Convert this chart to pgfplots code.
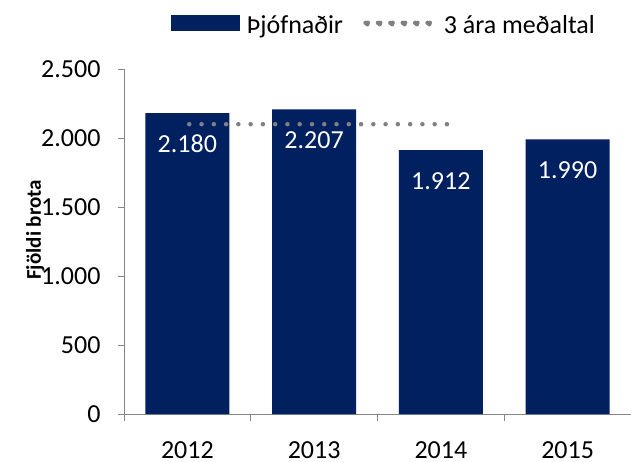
\documentclass[border=0pt]{standalone}
\usepackage{fontspec}
\setmainfont{Carlito}
\usepackage{pgfplots}
\pgfplotsset{compat=1.18}
\definecolor{barblue}{HTML}{002060}
\definecolor{dotgray}{HTML}{808080}
\definecolor{axgray}{HTML}{868686}
\begin{document}
\begin{tikzpicture}
\useasboundingbox (0,0) rectangle (631pt,461pt);
\begin{axis}[
  at={(124pt,47pt)}, anchor=south west,
  scale only axis, width=507pt, height=345pt,
  xmin=-0.5, xmax=3.5, ymin=0, ymax=2500,
  axis x line*=bottom, axis y line*=left,
  axis line style={axgray, line width=1pt},
  ytick={0,500,1000,1500,2000,2500},
  xtick={0,1,2,3}, xticklabels={2012,2013,2014,2015},
  minor xtick={-0.5,0.5,1.5,2.5,3.5},
  tick align=outside,
  major tick length=6pt, minor tick length=7pt,
  tick style={axgray, line width=1pt},
  major x tick style={draw=none},
  /pgf/number format/.cd, 1000 sep={.}, assume math mode=true, /pgfplots/.cd,
  ticklabel style={font=\fontsize{26}{31}\selectfont, text=black},
  yticklabel style={xshift=-14pt},
  xticklabel style={inner ysep=0.5pt, yshift=-20.5pt},
  ylabel={Fjöldi brota},
  ylabel style={at={(axis description cs:-0.175,0.534)}, anchor=center, font=\bfseries\fontsize{21}{25}\selectfont},
  legend style={at={(axis description cs:0.0927,1.128)}, anchor=west, draw=none, fill=none,
    inner sep=0pt, outer sep=0pt, font=\fontsize{26}{31}\selectfont,
    /tikz/every even column/.append style={column sep=14pt}, nodes={inner xsep=4pt}},
  legend columns=2,
]
\addplot[ybar, bar width=84pt, fill=barblue, draw=none,
  nodes near coords,
  every node near coord/.append style={anchor=center, yshift=-31pt, text=white, font=\fontsize{26}{31}\selectfont},
  legend image code/.code={\fill[barblue] (0pt,-6pt) rectangle (69pt,10pt); \path (72pt,0pt);}]
  coordinates {(0,2180) (1,2207) (2,1912) (3,1990)};
\addlegendentry{Þjófnaðir}
\addplot[dotgray, line width=4.5pt, line cap=round, dash pattern=on 0pt off 12.27pt,
  legend image code/.code={\foreach \i in {0,...,5} {\fill[dotgray] (2pt+\i*12.4pt,2pt) circle (2.25pt);} \path (0pt,0pt) (74pt,0pt);}]
  coordinates {(0.015,2100) (2.05,2100)};
\addlegendentry{3 ára meðaltal}
\end{axis}
\end{tikzpicture}
\end{document}
